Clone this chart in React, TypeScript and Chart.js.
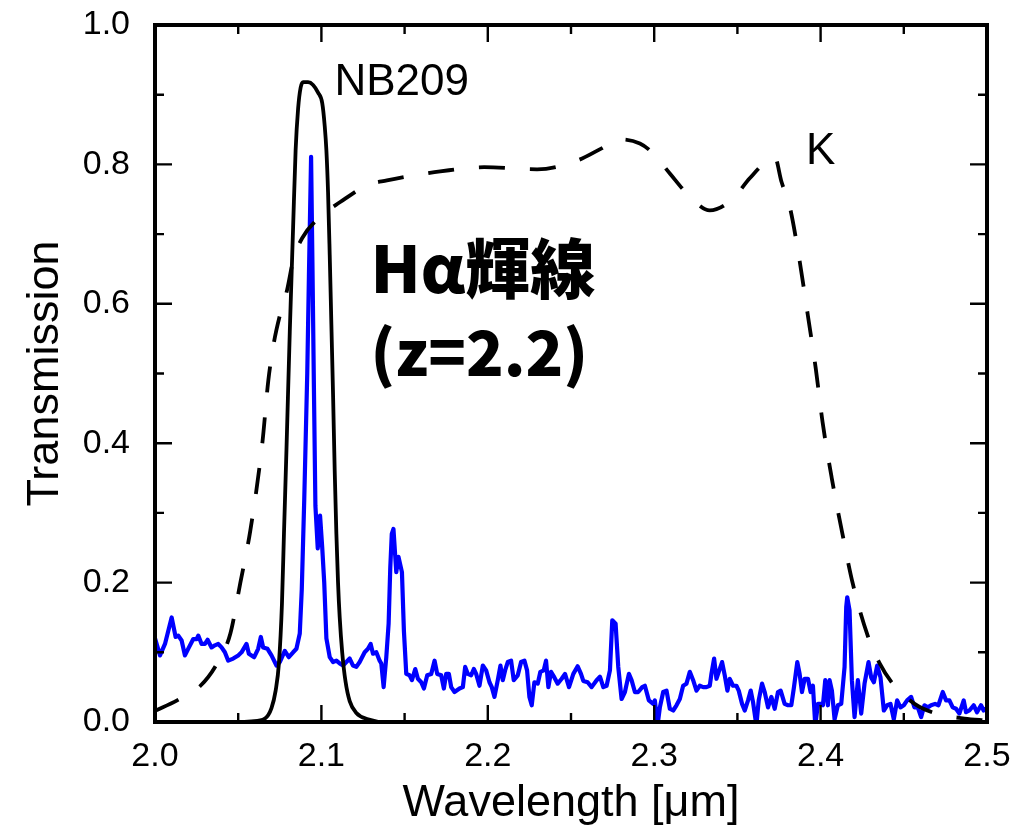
import { useEffect, useRef } from "react";
import { Chart, registerables } from "chart.js";

Chart.register(...registerables);

// Axis ranges and tick positions
const xRange = [2.0, 2.5];
const yRange = [0, 1.0];
const xMajorTicks = [2.0, 2.1, 2.2, 2.3, 2.4, 2.5];
const xMinorTicks = [2.05, 2.15, 2.25, 2.35, 2.45];
const yMajorTicks = [0, 0.2, 0.4, 0.6, 0.8, 1.0];
const yMinorTicks = [0.1, 0.3, 0.5, 0.7, 0.9];

// NB209 narrow-band filter transmission
const nbWave = [
  2.0, 2.05, 2.058, 2.066, 2.07, 2.0725, 2.0745, 2.0763, 2.0775, 2.079, 2.081,
  2.083, 2.0845, 2.086, 2.0875, 2.089, 2.092, 2.095, 2.098, 2.1005, 2.102,
  2.103, 2.104, 2.105, 2.106, 2.107, 2.108, 2.109, 2.11, 2.111, 2.1125, 2.1145,
  2.117, 2.121, 2.128, 2.138, 2.5,
];
const nbTrans = [
  0, 0, 0.001, 0.005, 0.02, 0.045, 0.085, 0.17, 0.27, 0.39, 0.56,
  0.71, 0.82, 0.88, 0.91, 0.918, 0.918, 0.914, 0.903, 0.888, 0.855,
  0.82, 0.76, 0.67, 0.57, 0.47, 0.36, 0.27, 0.2, 0.15, 0.1, 0.058,
  0.03, 0.013, 0.004, 0, 0,
];

// K broad-band filter transmission
const kWave = [
  2.0, 2.0133, 2.0273, 2.0373, 2.0453, 2.0513, 2.0573, 2.0645, 2.0681, 2.0715,
  2.0753, 2.0794, 2.0831, 2.0884, 2.0993, 2.1113, 2.1274, 2.1394, 2.1574,
  2.1714, 2.1978, 2.2296, 2.2542, 2.2684, 2.2794, 2.2914, 2.2984, 2.3094,
  2.3194, 2.3334, 2.3465, 2.3574, 2.3682, 2.3725, 2.3765, 2.3815, 2.3875,
  2.3923, 2.3971, 2.4012, 2.4067, 2.4127, 2.4193, 2.4283, 2.4355, 2.4433,
  2.4565, 2.4697, 2.4865, 2.5,
];
const kTrans = [
  0.016, 0.031, 0.052, 0.084, 0.127, 0.2, 0.275, 0.4, 0.49, 0.545,
  0.586, 0.62, 0.663, 0.694, 0.725, 0.746, 0.77, 0.777, 0.785,
  0.79, 0.796, 0.793, 0.806, 0.823, 0.836, 0.83, 0.818, 0.787,
  0.759, 0.734, 0.749, 0.78, 0.806, 0.81, 0.775, 0.739, 0.66,
  0.584, 0.507, 0.43, 0.35, 0.275, 0.199, 0.124, 0.084, 0.055,
  0.026, 0.012, 0.005, 0.002,
];

// Night-sky / galaxy spectrum (blue)
const specWave = [
  2.0, 2.003, 2.006, 2.01, 2.0124, 2.014, 2.016, 2.018, 2.0204, 2.023, 2.025,
  2.026, 2.028, 2.03, 2.0316, 2.034, 2.036, 2.038, 2.04, 2.042, 2.044, 2.047,
  2.05, 2.052, 2.055, 2.0564, 2.0596, 2.062, 2.0636, 2.065, 2.0676, 2.07,
  2.073, 2.075, 2.078, 2.0804, 2.083, 2.085, 2.087, 2.0882, 2.0897, 2.0915,
  2.0925, 2.0938, 2.0946, 2.0955, 2.0964, 2.0978, 2.0992, 2.1005, 2.1017,
  2.103, 2.105, 2.107, 2.109, 2.111, 2.113, 2.115, 2.117, 2.119, 2.121, 2.123,
  2.126, 2.128, 2.1296, 2.131, 2.133, 2.135, 2.136, 2.1374, 2.139, 2.1404,
  2.1414, 2.1423, 2.1433, 2.145, 2.1463, 2.1484, 2.1496, 2.151, 2.153, 2.1544,
  2.1564, 2.158, 2.16, 2.1616, 2.1636, 2.166, 2.168, 2.1696, 2.172, 2.1736,
  2.175, 2.1766, 2.178, 2.18, 2.183, 2.185, 2.1864, 2.188, 2.19, 2.1916, 2.193,
  2.195, 2.197, 2.199, 2.201, 2.2024, 2.204, 2.206, 2.2076, 2.209, 2.2104,
  2.212, 2.214, 2.2156, 2.218, 2.22, 2.222, 2.2236, 2.225, 2.2264, 2.228, 2.23,
  2.2316, 2.2336, 2.235, 2.2364, 2.238, 2.24, 2.242, 2.2444, 2.2464, 2.2488,
  2.2514, 2.254, 2.256, 2.2574, 2.26, 2.2624, 2.2654, 2.2674, 2.2694, 2.2714,
  2.2734, 2.2748, 2.2768, 2.2784, 2.2804, 2.2824, 2.2848, 2.2864, 2.2884,
  2.2904, 2.2928, 2.2944, 2.2968, 2.2994, 2.3004, 2.302, 2.3034, 2.3054,
  2.3074, 2.3094, 2.3114, 2.3134, 2.3154, 2.3174, 2.3194, 2.3214, 2.3234,
  2.3254, 2.3274, 2.3294, 2.3314, 2.3334, 2.3344, 2.336, 2.3374, 2.3388,
  2.3408, 2.3424, 2.344, 2.3454, 2.3474, 2.3494, 2.3508, 2.3528, 2.3544,
  2.3564, 2.358, 2.3594, 2.3614, 2.3628, 2.3648, 2.3664, 2.3684, 2.3704,
  2.3724, 2.3744, 2.376, 2.3784, 2.3804, 2.3824, 2.384, 2.386, 2.3874, 2.3888,
  2.3904, 2.3924, 2.394, 2.3954, 2.3968, 2.3984, 2.4, 2.4014, 2.4028, 2.4044,
  2.4054, 2.4068, 2.4084, 2.4104, 2.4124, 2.4144, 2.4154, 2.416, 2.4174,
  2.4188, 2.4204, 2.4224, 2.4244, 2.4264, 2.4288, 2.4304, 2.432, 2.434, 2.436,
  2.438, 2.44, 2.442, 2.444, 2.446, 2.448, 2.45, 2.452, 2.4544, 2.4564, 2.4584,
  2.4604, 2.4624, 2.4644, 2.4664, 2.4688, 2.4708, 2.4734, 2.4754, 2.4774,
  2.4794, 2.4814, 2.4834, 2.486, 2.4874, 2.4894, 2.492, 2.494, 2.4964, 2.498,
  2.5,
];
const specFlux = [
  0.12, 0.0955, 0.112, 0.15, 0.122, 0.124, 0.117, 0.0955, 0.107, 0.119, 0.119,
  0.124, 0.112, 0.112, 0.118, 0.107, 0.11, 0.112, 0.107, 0.1, 0.088, 0.091,
  0.0955, 0.1, 0.112, 0.098, 0.093, 0.105, 0.122, 0.107, 0.105, 0.0955,
  0.081, 0.086, 0.102, 0.093, 0.1, 0.105, 0.127, 0.19, 0.32, 0.5,
  0.64, 0.811, 0.66, 0.48, 0.31, 0.249, 0.296, 0.25, 0.2,
  0.12, 0.093, 0.086, 0.088, 0.084, 0.081, 0.086, 0.091, 0.081, 0.079, 0.086,
  0.1, 0.105, 0.112, 0.098, 0.1, 0.088, 0.084, 0.05, 0.093, 0.141,
  0.222, 0.27, 0.277, 0.215, 0.237, 0.215, 0.13, 0.069, 0.067, 0.06,
  0.076, 0.062, 0.057, 0.048, 0.067, 0.069, 0.088, 0.069, 0.067, 0.048,
  0.069, 0.069, 0.05, 0.043, 0.048, 0.05, 0.079, 0.069, 0.067, 0.076, 0.069,
  0.052, 0.081, 0.074, 0.057, 0.05, 0.036, 0.06, 0.081, 0.06, 0.074,
  0.086, 0.088, 0.06, 0.067, 0.086, 0.088, 0.074, 0.036, 0.024, 0.057, 0.055,
  0.072, 0.074, 0.088, 0.05, 0.072, 0.064, 0.055, 0.062, 0.069, 0.05,
  0.069, 0.08, 0.069, 0.059, 0.057, 0.05, 0.06, 0.065, 0.05, 0.052,
  0.074, 0.146, 0.141, 0.079, 0.033, 0.043, 0.069, 0.06, 0.043,
  0.043, 0.05, 0.052, 0.031, 0.026, 0.031, -0.005, 0.021, 0.043,
  0.045, 0.019, 0.0165, 0.024, 0.033, 0.052, 0.055, 0.072, 0.06,
  0.045, 0.052, 0.05, 0.05, 0.052, 0.069, 0.091, 0.062, 0.072,
  0.086, 0.067, 0.045, 0.062, 0.052, 0.052, 0.045, 0.026, 0.0165,
  0.031, 0.045, 0.0285, -0.005, 0.031, 0.055, 0.043, 0.021, 0.036,
  0.019, 0.043, 0.045, 0.026, 0.024, 0.024, 0.05, 0.086, 0.069, 0.043,
  0.062, 0.062, 0.043, 0.052, -0.005, 0.026, 0.026, 0.024, 0.06, 0.024,
  0.06, 0.045, 0.004, 0.024, 0.026, 0.079, 0.165, 0.179, 0.16,
  0.06, 0.007, 0.06, 0.012, 0.055, 0.086, 0.064, 0.057, 0.081, 0.064,
  0.0165, 0.024, 0.026, 0.004, 0.031, 0.021, 0.024, 0.031, 0.036, 0.021, 0.021,
  0.007, 0.024, 0.021, 0.024, 0.026, 0.024, 0.043, 0.031, 0.031,
  0.021, 0.019, 0.012, 0.031, 0.014, 0.0165, 0.024, 0.014, 0.024, 0.0165,
  0.02,
];

// Text annotations placed in data coordinates
const nbLabel = "NB209";
const kLabel = "K";
const lineLabel = "Hα輝線";
const redshiftLabel = "(z=2.2)";

const SANS = "'Liberation Sans', Arial, Helvetica, sans-serif";
const CJK = "'Noto Sans CJK JP', 'Noto Sans', sans-serif";

const toPoints = (xs: number[], ys: number[]) => xs.map((x, i) => ({ x, y: ys[i] }));

const frameAndLabels = {
  id: "frameAndLabels",
  afterDatasetsDraw(chart: any) {
    const { ctx, chartArea: a, scales } = chart;
    const xs = scales.x;
    const ys = scales.y;
    ctx.save();
    ctx.strokeStyle = "#000";
    ctx.lineWidth = 2.4;
    ctx.lineCap = "butt";
    const major = 17;
    const minor = 9;
    const xTick = (v: number, len: number) => {
      const px = xs.getPixelForValue(v);
      ctx.beginPath();
      ctx.moveTo(px, a.bottom);
      ctx.lineTo(px, a.bottom - len);
      ctx.moveTo(px, a.top);
      ctx.lineTo(px, a.top + len);
      ctx.stroke();
    };
    const yTick = (v: number, len: number) => {
      const py = ys.getPixelForValue(v);
      ctx.beginPath();
      ctx.moveTo(a.left, py);
      ctx.lineTo(a.left + len, py);
      ctx.moveTo(a.right, py);
      ctx.lineTo(a.right - len, py);
      ctx.stroke();
    };
    xMajorTicks.forEach((v) => xTick(v, major));
    xMinorTicks.forEach((v) => xTick(v, minor));
    yMajorTicks.forEach((v) => yTick(v, major));
    yMinorTicks.forEach((v) => yTick(v, minor));

    ctx.lineWidth = 4;
    ctx.strokeRect(a.left, a.top, a.right - a.left, a.bottom - a.top);

    ctx.fillStyle = "#000";
    ctx.textBaseline = "alphabetic";
    ctx.textAlign = "left";
    ctx.font = `44px ${SANS}`;
    ctx.fillText(nbLabel, xs.getPixelForValue(2.1078), ys.getPixelForValue(0.8995));
    ctx.fillText(kLabel, xs.getPixelForValue(2.3912), ys.getPixelForValue(0.8005));

    ctx.font = `900 65px ${CJK}`;
    ctx.fillText(lineLabel, xs.getPixelForValue(2.1295), ys.getPixelForValue(0.615));
    ctx.font = `900 62px ${CJK}`;
    ctx.fillText(redshiftLabel, xs.getPixelForValue(2.1295), ys.getPixelForValue(0.497));
    ctx.restore();
  },
};

export default function App() {
  const canvasRef = useRef<HTMLCanvasElement | null>(null);

  useEffect(() => {
    const canvas = canvasRef.current;
    if (!canvas) return;
    const chart = new Chart(canvas, {
      type: "line",
      data: {
        datasets: [
          {
            label: "K",
            data: toPoints(kWave, kTrans),
            borderColor: "#000",
            borderWidth: 3.8,
            borderDash: [26, 25],
            cubicInterpolationMode: "monotone",
            pointRadius: 0,
            fill: false,
            order: 1,
          },
          {
            label: "NB209",
            data: toPoints(nbWave, nbTrans),
            borderColor: "#000",
            borderWidth: 3.8,
            cubicInterpolationMode: "monotone",
            pointRadius: 0,
            fill: false,
            order: 2,
          },
          {
            label: "Spectrum",
            data: toPoints(specWave, specFlux),
            borderColor: "#0000ff",
            borderWidth: 4.2,
            borderJoinStyle: "round",
            tension: 0,
            pointRadius: 0,
            fill: false,
            order: 3,
          },
        ],
      },
      options: {
        animation: false,
        responsive: false,
        maintainAspectRatio: false,
        devicePixelRatio: 1,
        layout: { autoPadding: false, padding: { left: 0, top: 25, right: 38, bottom: 0 } },
        plugins: {
          legend: { display: false },
          tooltip: { enabled: false },
        },
        scales: {
          x: {
            type: "linear",
            min: xRange[0],
            max: xRange[1],
            grid: { display: false },
            border: { display: false },
            afterBuildTicks: (s: any) => {
              s.ticks = xMajorTicks.map((value) => ({ value }));
            },
            afterFit: (s: any) => {
              s.height = 109;
              s.paddingLeft = 0;
              s.paddingRight = 0;
              s.paddingTop = 0;
              s.paddingBottom = 0;
            },
            ticks: {
              color: "#000",
              padding: 6,
              maxRotation: 0,
              autoSkip: false,
              font: { family: SANS, size: 34 },
              callback: (v: any) => Number(v).toFixed(1),
            },
            title: {
              display: true,
              text: "Wavelength [μm]",
              color: "#000",
              padding: { top: 0, bottom: 0 },
              font: { family: SANS, size: 45 },
            },
          },
          y: {
            type: "linear",
            min: yRange[0],
            max: yRange[1],
            grid: { display: false },
            border: { display: false },
            afterBuildTicks: (s: any) => {
              s.ticks = yMajorTicks.map((value) => ({ value }));
            },
            afterFit: (s: any) => {
              s.width = 155;
              s.paddingLeft = 0;
              s.paddingRight = 0;
              s.paddingTop = 0;
              s.paddingBottom = 0;
            },
            ticks: {
              color: "#000",
              padding: 17,
              autoSkip: false,
              font: { family: SANS, size: 34 },
              callback: (v: any) => Number(v).toFixed(1),
            },
            title: {
              display: true,
              text: "Transmission",
              color: "#000",
              padding: { top: 19, bottom: 0 },
              font: { family: SANS, size: 45 },
            },
          },
        },
      },
      plugins: [frameAndLabels],
    });
    return () => chart.destroy();
  }, []);

  return (
    <div
      style={{
        position: "absolute",
        left: 0,
        top: 0,
        width: 1025,
        height: 831,
        background: "#fff",
      }}
    >
      <canvas
        ref={canvasRef}
        width={1025}
        height={831}
        style={{ display: "block", width: 1025, height: 831 }}
      />
    </div>
  );
}
